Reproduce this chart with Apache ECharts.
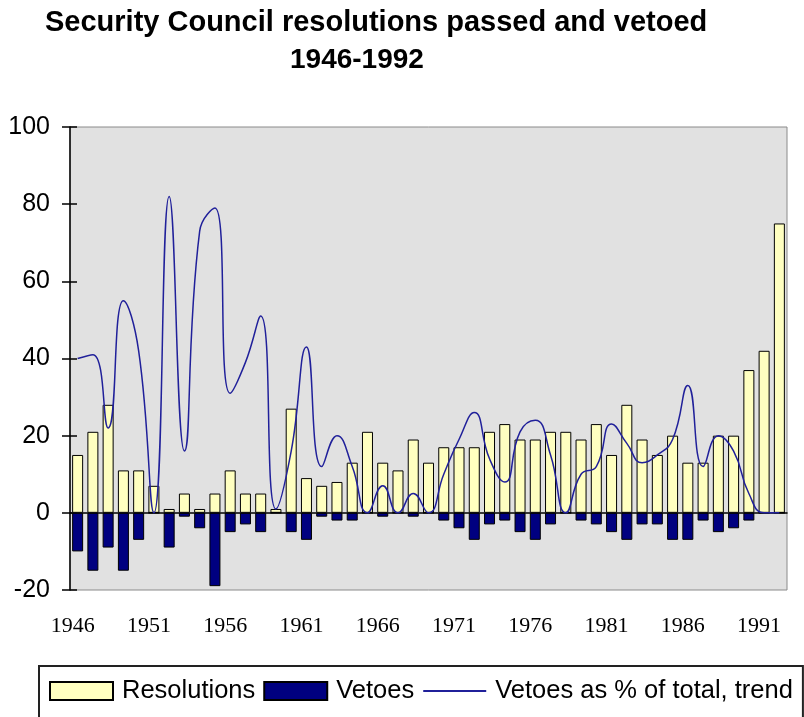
<!DOCTYPE html>
<html>
<head>
<meta charset="utf-8">
<script src="https://cdn.jsdelivr.net/npm/echarts@6/dist/echarts.min.js"></script>
<style>
  html, body { margin: 0; padding: 0; background: #ffffff; }
  #chart { width: 804px; height: 717px; }
</style>
</head>
<body>
<div id="chart"></div>
<script>
const years = [
  "1946", "1947", "1948", "1949", "1950", "1951", "1952", "1953", "1954", "1955",
  "1956", "1957", "1958", "1959", "1960", "1961", "1962", "1963", "1964", "1965",
  "1966", "1967", "1968", "1969", "1970", "1971", "1972", "1973", "1974", "1975",
  "1976", "1977", "1978", "1979", "1980", "1981", "1982", "1983", "1984", "1985",
  "1986", "1987", "1988", "1989", "1990", "1991", "1992",
];

// resolutions passed per year
const resolutions = [
  15, 21, 28, 11, 11, 7, 1, 5, 1, 5,
  11, 5, 5, 1, 27, 9, 7, 8, 13, 21,
  13, 11, 19, 13, 17, 17, 17, 21, 23, 19,
  19, 21, 21, 19, 23, 15, 28, 19, 15, 20,
  13, 13, 20, 20, 37, 42, 75,
];

// vetoes per year, drawn below zero
const vetoes = [
  -10, -15, -9, -15, -7, 0, -9, -1, -4, -19,
  -5, -3, -5, 0, -5, -7, -1, -2, -2, 0,
  -1, 0, -1, 0, -2, -4, -7, -3, -2, -5,
  -7, -3, 0, -2, -3, -5, -7, -3, -3, -7,
  -7, -2, -5, -4, -2, 0, 0,
];

// vetoes as % of total
const vetoShare = [
  40, 41, 22, 55, 42, 0, 82, 16, 73, 79,
  31, 39, 51, 1, 16, 43, 12, 20, 12, 0,
  7, 0, 5, 0, 10, 19, 26, 14, 8, 21,
  24, 15, 0, 10, 12, 23, 18, 13, 15, 19,
  33, 12, 20, 16, 5, 0, 0,
];

const yTicks = { min: -20, max: 100, interval: 20 };

const sans = "Liberation Sans, Arial, sans-serif";
const serif = "Liberation Serif, Times New Roman, serif";

const chart = echarts.init(document.getElementById("chart"), null, { renderer: "canvas" });

chart.setOption({
  animation: false,
  backgroundColor: "#ffffff",
  title: [
    {
      text: "Security Council resolutions passed and vetoed",
      left: 45,
      top: 8,
      padding: 0,
      textStyle: { fontFamily: sans, fontWeight: "bold", fontSize: 29, color: "#000" },
    },
    {
      text: "1946-1992",
      left: 290,
      top: 46,
      padding: 0,
      textStyle: { fontFamily: sans, fontWeight: "bold", fontSize: 28, color: "#000" },
    },
  ],
  grid: {
    left: 70,
    right: 17,
    top: 127,
    bottom: 127,
    show: true,
    backgroundColor: "#e1e1e1",
    borderColor: "#8a8a8a",
    borderWidth: 1,
  },
  legend: {
    left: 39,
    top: 666,
    padding: [12, 10, 40, 10],
    itemWidth: 63,
    itemHeight: 18,
    itemGap: 8,
    borderColor: "#222",
    borderWidth: 2,
    textStyle: { fontFamily: sans, fontSize: 25.5, color: "#000", padding: [0, 0, 0, 4] },
    data: [
      { name: "Resolutions", icon: "rect" },
      { name: "Vetoes", icon: "rect" },
      { name: "Vetoes as % of total, trend", itemStyle: { opacity: 0 } },
    ],
  },
  xAxis: [
    {
      type: "category",
      data: years,
      axisLine: { show: false, onZero: false },
      axisTick: { show: false },
      axisLabel: {
        interval: 4,
        margin: 25,
        fontFamily: serif,
        fontSize: 22,
        color: "#000",
        padding: [0, 10, 0, 0],
      },
    },
    {
      type: "category",
      data: years,
      position: "bottom",
      axisLine: { show: true, onZero: true, onZeroAxisIndex: 0, lineStyle: { color: "#000", width: 1.5 } },
      axisTick: { show: false },
      axisLabel: { show: false },
    },
  ],
  yAxis: [
    {
      type: "value",
      ...yTicks,
      axisLine: { show: true, lineStyle: { color: "#000", width: 1.5 } },
      axisTick: { show: true, inside: false, length: 8, lineStyle: { color: "#000", width: 1.5 } },
      axisLabel: { margin: 20, fontFamily: sans, fontSize: 25, color: "#000" },
      splitLine: { show: false },
    },
    {
      type: "value",
      ...yTicks,
      position: "left",
      axisLine: { show: false },
      axisTick: { show: true, inside: true, length: 7, lineStyle: { color: "#000", width: 1.5 } },
      axisLabel: { show: false },
      splitLine: { show: false },
    },
  ],
  series: [
    {
      name: "Resolutions",
      type: "bar",
      data: resolutions,
      barWidth: 11,
      barGap: "-100%",
      itemStyle: { color: "#ffffc0", borderColor: "#000", borderWidth: 1 },
    },
    {
      name: "Vetoes",
      type: "bar",
      data: vetoes,
      barWidth: 11,
      itemStyle: { color: "#000080", borderColor: "#000", borderWidth: 1 },
    },
    {
      name: "Vetoes as % of total, trend",
      type: "line",
      data: vetoShare,
      smooth: 0.5,
      symbol: "none",
      z: 5,
      lineStyle: { color: "#20209a", width: 1.5 },
      itemStyle: { color: "#20209a" },
    },
  ],
});
</script>
</body>
</html>
